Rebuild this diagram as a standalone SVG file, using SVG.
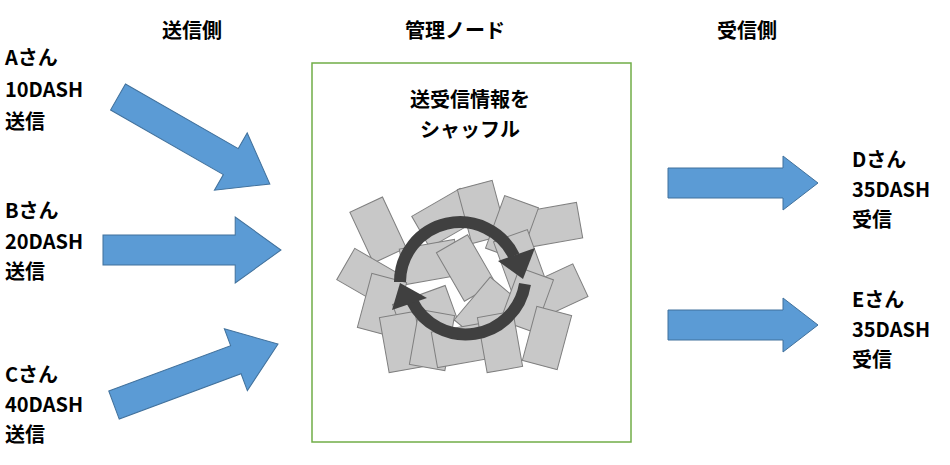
<svg xmlns="http://www.w3.org/2000/svg" width="950" height="465" viewBox="0 0 950 465">
<style>
text{font-family:"Noto Sans CJK JP","Liberation Sans",sans-serif;font-weight:bold;font-size:20px;fill:#000}
.h{text-anchor:middle}
.ar{fill:#5b9bd5;stroke:#41719c;stroke-width:1}
.c{fill:#c8c8c8;stroke:#7f7f7f;stroke-width:1}
</style>
<defs>
<polygon id="ar175" class="ar" points="0,-15 130,-15 130,-33 175,0 130,33 130,15 0,15"/>
<polygon id="ar150" class="ar" points="0,-15 115,-15 115,-27 150,0 115,27 115,15 0,15"/>
<rect id="cd" class="c" x="-18" y="-28" width="36" height="56"/>
</defs>
<rect width="950" height="465" fill="#fff"/>
<g id="headers">
<text class="h" x="192" y="38">送信側</text>
<text class="h" x="455" y="38">管理ノード</text>
<text class="h" x="747" y="38">受信側</text>
</g>
<g id="nodeA"><text x="5" y="65">Aさん</text><text x="5" y="97">10DASH</text><text x="5" y="129">送信</text></g>
<g id="nodeB"><text x="5" y="218">Bさん</text><text x="5" y="249">20DASH</text><text x="5" y="279">送信</text></g>
<g id="nodeC"><text x="5" y="382">Cさん</text><text x="5" y="412">40DASH</text><text x="5" y="442">送信</text></g>
<g id="nodeD"><text x="852" y="167">Dさん</text><text x="852" y="197">35DASH</text><text x="852" y="227">受信</text></g>
<g id="nodeE"><text x="852" y="307">Eさん</text><text x="852" y="337">35DASH</text><text x="852" y="367">受信</text></g>
<g id="manager">
<rect x="312" y="63" width="319" height="379" fill="#fff" stroke="#70ad47" stroke-width="1.5"/>
<text class="h" x="470" y="107">送受信情報を</text>
<text class="h" x="470" y="137">シャッフル</text>
<g id="shuffle">
<use href="#cd" transform="translate(378,230) rotate(-25)"/>
<use href="#cd" transform="translate(445,218) rotate(60)"/>
<use href="#cd" transform="translate(482,212) rotate(-15)"/>
<use href="#cd" transform="translate(552,225) rotate(80)"/>
<use href="#cd" transform="translate(512,228) rotate(20)"/>
<use href="#cd" transform="translate(370,278) rotate(-60)"/>
<use href="#cd" transform="translate(430,262) rotate(80)"/>
<use href="#cd" transform="translate(466,268) rotate(-30)"/>
<use href="#cd" transform="translate(520,262) rotate(-20)"/>
<use href="#cd" transform="translate(555,292) rotate(65)"/>
<use href="#cd" transform="translate(382,305) rotate(15)"/>
<use href="#cd" transform="translate(425,312) rotate(70)"/>
<use href="#cd" transform="translate(486,310) rotate(40)"/>
<use href="#cd" transform="translate(527,300) rotate(20)"/>
<use href="#cd" transform="translate(402,342) rotate(-10)"/>
<use href="#cd" transform="translate(432,340) rotate(10)"/>
<use href="#cd" transform="translate(462,345) rotate(80)"/>
<use href="#cd" transform="translate(500,342) rotate(-10)"/>
<use href="#cd" transform="translate(547,338) rotate(15)"/>
<path d="M400,282 A60,60 0 0 1 514,256" fill="none" stroke="#404040" stroke-width="12"/>
<polygon points="498,261 535,248 523,279" fill="#404040"/>
<path d="M525,284 A60,60 0 0 1 412,301" fill="none" stroke="#404040" stroke-width="12"/>
<polygon points="392,310 400,283 427,298" fill="#404040"/>
</g>
</g>
<g id="connectors">
<use href="#ar175" transform="translate(118,97) rotate(29.8)"/>
<use href="#ar175" transform="translate(103,250) scale(1.017,1)"/>
<use href="#ar175" transform="translate(114,405) rotate(-20.4)"/>
<use href="#ar150" transform="translate(668,183)"/>
<use href="#ar150" transform="translate(668,325)"/>
</g>
</svg>
